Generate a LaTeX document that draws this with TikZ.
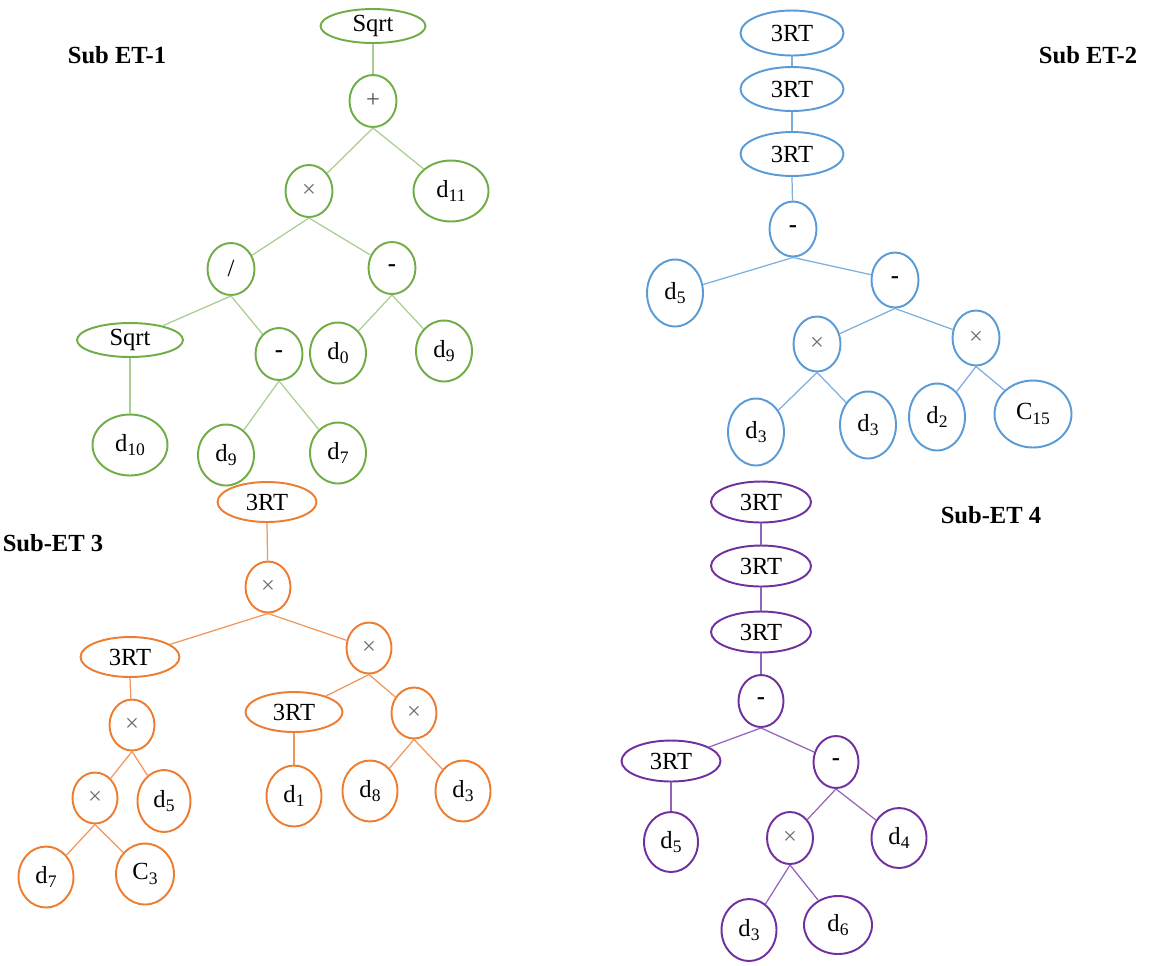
\documentclass[tikz,border=0pt]{standalone}
\usepackage{fontspec}
\setmainfont{Liberation Serif}
\usetikzlibrary{shapes.geometric}
\definecolor{etgreen}{RGB}{112,173,71}
\definecolor{etblue}{RGB}{91,155,213}
\definecolor{etorange}{RGB}{237,125,49}
\definecolor{etpurple}{RGB}{112,48,160}
\definecolor{opgray}{RGB}{110,110,110}
\newcommand{\optimes}{\textcolor{opgray}{×}}
\newcommand{\opminus}{\textbf{-}}
\newcommand{\lowsub}[1]{\raisebox{-2.6pt}{\fontsize{10}{12}\selectfont #1}}
\newcommand{\vd}[1]{d\lowsub{#1}}

\begin{document}
\begin{tikzpicture}[x=0.02cm, y=-0.02cm,
  tnode/.style={ellipse, draw, line width=1.1pt, inner sep=0pt, fill=white,
    font=\fontsize{14}{17}\selectfont},
  opnode/.style={tnode, minimum width=0.94cm, minimum height=1.04cm},
  fnnode/.style={tnode, minimum width=2.0cm, minimum height=0.8cm},
  leafnode/.style={tnode, minimum width=1.12cm, minimum height=1.22cm},
  wideleaf/.style={leafnode, minimum width=1.5cm},
  branch/.style={line width=0.7pt},
  title/.style={font=\fontsize{14}{17}\selectfont\bfseries}]

\useasboundingbox[fill=white] (0,0) rectangle (1152,965);

% Sub ET-1
\begin{scope}[tnode/.append style={draw=etgreen}, branch/.append style={draw=etgreen!60}]
\node[title] (t1) at (117,55) {Sub ET-1};
\node[fnnode, minimum width=2.1cm, minimum height=0.68cm] (gsqrt) at (373,26) {Sqrt};
\node[opnode] (gplus) at (373,101) {\textcolor{black!70}{+}};
\node[opnode] (gtimes) at (309,191) {\optimes};
\node[wideleaf] (gd11) at (451,191) {\vd{11}};
\node[opnode] (gdiv) at (231,269) {/};
\node[opnode] (gminus) at (392,268) {\opminus};
\node[fnnode, minimum width=2.12cm, minimum height=0.68cm] (gsqrtl) at (130,340) {Sqrt};
\node[opnode] (gminusl) at (279,354) {\opminus};
\node[leafnode] (gd0) at (338,353) {\vd{0}};
\node[leafnode] (gd9) at (444,351) {\vd{9}};
\node[wideleaf] (gd10) at (130,445) {\vd{10}};
\node[leafnode] (gd9b) at (226,455) {\vd{9}};
\node[leafnode] (gd7) at (338,453) {\vd{7}};

\draw[branch] (gsqrt.south) -- (gplus);
\draw[branch] (gplus.south) -- (gtimes);
\draw[branch] (gplus.south) -- (gd11);
\draw[branch] (gtimes.south) -- (gdiv);
\draw[branch] (gtimes.south) -- (gminus);
\draw[branch] (gdiv.south) -- (gsqrtl);
\draw[branch] (gdiv.south) -- (gminusl);
\draw[branch] (gminus.south) -- (gd0);
\draw[branch] (gminus.south) -- (gd9);
\draw[branch] (gsqrtl.south) -- (gd10);
\draw[branch] (gminusl.south) -- (gd9b);
\draw[branch] (gminusl.south) -- (gd7);
\end{scope}

% Sub ET-2
\begin{scope}[tnode/.append style={draw=etblue}, branch/.append style={draw=etblue!80}]
\node[title] (t2) at (1088,55) {Sub ET-2};
\node[fnnode, minimum width=2.06cm, minimum height=0.9cm] (b3rta) at (792,33) {3RT};
\node[fnnode, minimum width=2.06cm, minimum height=0.88cm] (b3rtb) at (792,89) {3RT};
\node[fnnode, minimum width=2.06cm, minimum height=0.88cm] (b3rtc) at (792,154) {3RT};
\node[opnode, minimum height=1.1cm] (bminus) at (793,229) {\opminus};
\node[leafnode, minimum height=1.34cm] (bd5) at (675,293) {\vd{5}};
\node[opnode, minimum height=1.1cm] (bminusb) at (895,280) {\opminus};
\node[opnode, minimum height=1.1cm] (btimesl) at (817,344) {\optimes};
\node[opnode, minimum height=1.1cm] (btimesr) at (976,338) {\optimes};
\node[leafnode, minimum height=1.34cm] (bd3a) at (756,432) {\vd{3}};
\node[leafnode, minimum height=1.34cm] (bd3b) at (868,425) {\vd{3}};
\node[leafnode, minimum height=1.34cm] (bd2) at (937,417) {\vd{2}};
\node[wideleaf, minimum width=1.54cm, minimum height=1.34cm] (bc15) at (1033,414) {C\lowsub{15}};

\draw[branch] (b3rta.south) -- (b3rtb);
\draw[branch] (b3rtb.south) -- (b3rtc);
\draw[branch] (b3rtc.south) -- (bminus);
\draw[branch] (bminus.south) -- (bd5);
\draw[branch] (bminus.south) -- (bminusb);
\draw[branch] (bminusb.south) -- (btimesl);
\draw[branch] (bminusb.south) -- (btimesr);
\draw[branch] (btimesl.south) -- (bd3a);
\draw[branch] (btimesl.south) -- (bd3b);
\draw[branch] (btimesr.south) -- (bd2);
\draw[branch] (btimesr.south) -- (bc15);
\end{scope}

% Sub-ET 3
\begin{scope}[tnode/.append style={draw=etorange}, branch/.append style={draw=etorange!80}]
\node[title] (t3) at (53,543) {Sub-ET 3};
\node[fnnode, minimum width=1.98cm] (o3rt) at (267,502) {3RT};
\node[opnode, minimum width=0.9cm, minimum height=1.02cm] (otimes) at (268,587) {\optimes};
\node[fnnode, minimum width=1.98cm] (o3rtl) at (130,657) {3RT};
\node[opnode, minimum width=0.9cm, minimum height=1.02cm] (otimesr) at (369,648) {\optimes};
\node[opnode, minimum width=0.9cm, minimum height=1.02cm] (otimesl) at (132,725) {\optimes};
\node[fnnode, minimum width=1.94cm] (o3rtm) at (294,712) {3RT};
\node[opnode, minimum width=0.9cm, minimum height=1.02cm] (otimesrr) at (414,713) {\optimes};
\node[opnode, minimum width=0.9cm, minimum height=1.02cm] (otimesll) at (95,798) {\optimes};
\node[leafnode, minimum width=1.06cm, minimum height=1.24cm] (od5) at (164,801) {\vd{5}};
\node[leafnode, minimum width=1.1cm] (od1) at (294,796) {\vd{1}};
\node[leafnode, minimum width=1.1cm] (od8) at (370,791) {\vd{8}};
\node[leafnode, minimum width=1.1cm] (od3) at (463,791) {\vd{3}};
\node[leafnode, minimum width=1.1cm] (od7) at (46,877) {\vd{7}};
\node[leafnode, minimum width=1.16cm] (oc3) at (145,874) {C\lowsub{3}};

\draw[branch] (o3rt.south) -- (otimes);
\draw[branch] (otimes.south) -- (o3rtl);
\draw[branch] (otimes.south) -- (otimesr);
\draw[branch] (o3rtl.south) -- (otimesl);
\draw[branch] (otimesl.south) -- (otimesll);
\draw[branch] (otimesl.south) -- (od5);
\draw[branch] (otimesll.south) -- (od7);
\draw[branch] (otimesll.south) -- (oc3);
\draw[branch] (otimesr.south) -- (o3rtm);
\draw[branch] (otimesr.south) -- (otimesrr);
\draw[branch] (o3rtm.south) -- (od1);
\draw[branch] (otimesrr.south) -- (od8);
\draw[branch] (otimesrr.south) -- (od3);
\end{scope}

% Sub-ET 4
\begin{scope}[tnode/.append style={draw=etpurple}, branch/.append style={draw=etpurple!75}]
\node[title] (t4) at (991,515) {Sub-ET 4};
\node[fnnode, minimum height=0.82cm] (p3rta) at (761,502) {3RT};
\node[fnnode, minimum height=0.82cm] (p3rtb) at (761,566) {3RT};
\node[fnnode, minimum height=0.82cm] (p3rtc) at (761,632) {3RT};
\node[opnode, minimum width=0.9cm] (pminus) at (761,701) {\opminus};
\node[fnnode, minimum width=1.98cm, minimum height=0.82cm] (p3rtl) at (671,761) {3RT};
\node[opnode, minimum width=0.9cm] (pminusr) at (836,762) {\opminus};
\node[leafnode, minimum width=1.08cm, minimum height=1.2cm] (pd5) at (671,842) {\vd{5}};
\node[opnode, minimum width=0.92cm] (ptimes) at (790,838) {\optimes};
\node[leafnode, minimum width=1.1cm, minimum height=1.2cm] (pd4) at (899,838) {\vd{4}};
\node[leafnode, minimum width=1.1cm, minimum height=1.24cm] (pd3) at (749,930) {\vd{3}};
\node[leafnode, minimum width=1.36cm, minimum height=1.16cm] (pd6) at (838,925) {\vd{6}};

\draw[branch] (p3rta.south) -- (p3rtb);
\draw[branch] (p3rtb.south) -- (p3rtc);
\draw[branch] (p3rtc.south) -- (pminus);
\draw[branch] (pminus.south) -- (p3rtl);
\draw[branch] (pminus.south) -- (pminusr);
\draw[branch] (p3rtl.south) -- (pd5);
\draw[branch] (pminusr.south) -- (ptimes);
\draw[branch] (pminusr.south) -- (pd4);
\draw[branch] (ptimes.south) -- (pd3);
\draw[branch] (ptimes.south) -- (pd6);
\end{scope}

\end{tikzpicture}
\end{document}
